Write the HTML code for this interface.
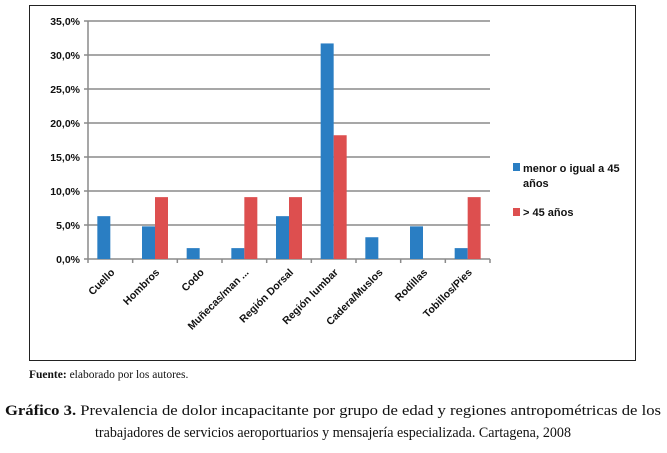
<!DOCTYPE html>
<html><head><meta charset="utf-8"><style>
body{margin:0;background:#fff;width:667px;height:453px;overflow:hidden}
svg{display:block}
</style></head><body>
<svg id="c" width="667" height="453" viewBox="0 0 667 453" font-family="Liberation Sans, sans-serif">
<rect x="29.5" y="5.5" width="606" height="355" fill="#fff" stroke="#222" stroke-width="1"/>
<g id="grid"></g><g id="bars"></g><g id="xl"></g>
<g>
<rect x="513" y="163" width="7" height="8" fill="#2a7ec3"/>
<text x="523" y="172" font-size="11" font-weight="bold" fill="#111">menor o igual a  45</text>
<text x="523" y="187" font-size="11" font-weight="bold" fill="#111">años</text>
<rect x="513" y="208" width="7" height="8" fill="#dd4f4f"/>
<text x="523" y="216" font-size="11" font-weight="bold" fill="#111">&gt;  45 años</text>
</g>
<text x="29" y="378" font-size="11.5" font-family="Liberation Serif, serif" fill="#111"><tspan font-weight="bold">Fuente:</tspan> elaborado por los autores.</text>
<text x="333" y="415" text-anchor="middle" font-size="15" textLength="656" lengthAdjust="spacingAndGlyphs" font-family="Liberation Serif, serif" fill="#111"><tspan font-weight="bold">Gráfico 3.</tspan> Prevalencia de dolor incapacitante por grupo de edad y regiones antropométricas de los</text>
<text x="333" y="437" text-anchor="middle" font-size="15" textLength="476" lengthAdjust="spacingAndGlyphs" font-family="Liberation Serif, serif" fill="#111">trabajadores de servicios aeroportuarios y mensajería especializada. Cartagena, 2008</text>
</svg>
<script>
const categories=["Cuello","Hombros","Codo","Muñecas/man ...","Región Dorsal","Región lumbar","Cadera/Muslos","Rodillas","Tobillos/Pies"];
const young=[6.3,4.8,1.6,1.6,6.3,31.7,3.2,4.8,1.6];
const old=[0,9.1,0,9.1,9.1,18.2,0,0,9.1];
const ticks=[0,5,10,15,20,25,30,35];
const tickLabels=["0,0%","5,0%","10,0%","15,0%","20,0%","25,0%","30,0%","35,0%"];
const NS="http://www.w3.org/2000/svg";
const x0=88,x1=490,yb=259,yt=21,ymax=35;
const y=v=>yb-(v/ymax)*(yb-yt);
const cw=(x1-x0)/categories.length;
const xc=i=>x0+cw*i;
function mk(t,a,p){const e=document.createElementNS(NS,t);for(const k in a)e.setAttribute(k,a[k]);p.appendChild(e);return e;}
const g=document.getElementById('grid'),b=document.getElementById('bars'),xl=document.getElementById('xl');
ticks.forEach((t,i)=>{
 const l=mk('line',{x1:x0-4,x2:x1,y1:y(t),y2:y(t),stroke:'#8a8a8a','stroke-width':1.5},g);
 
 
 const tx=mk('text',{x:x0-8,y:y(t)+4,'text-anchor':'end','font-size':10.5,'font-weight':'bold',fill:'#111'},g);
 tx.textContent=tickLabels[i];
 
 
});
const ax=mk('line',{x1:x0,x2:x0,y1:yt,y2:yb,stroke:'#8a8a8a','stroke-width':1.5},g);


for(let i=0;i<=categories.length;i++){
 const tk=mk('line',{x1:xc(i),x2:xc(i),y1:yb,y2:yb+4,stroke:'#8a8a8a','stroke-width':1.5},g);
 
 
}
const bw=13,off=(cw-2*bw)/2;
categories.forEach((c,i)=>{
 if(young[i]>0){const r=mk('rect',{x:xc(i)+off,y:y(young[i]),width:bw,height:yb-y(young[i]),fill:'#2a7ec3'},b);
 
 }
 if(old[i]>0){const r=mk('rect',{x:xc(i)+off+bw,y:y(old[i]),width:bw,height:yb-y(old[i]),fill:'#dd4f4f'},b);
 
 }
 const cx=xc(i)+cw/2+5;
 const t=mk('text',{x:cx,y:yb+14,'text-anchor':'end','font-size':10.5,'font-weight':'bold',fill:'#111',transform:`rotate(-45 ${cx} ${yb+14})`},xl);
 t.textContent=c;
 
 
});
</script>
</body></html>
